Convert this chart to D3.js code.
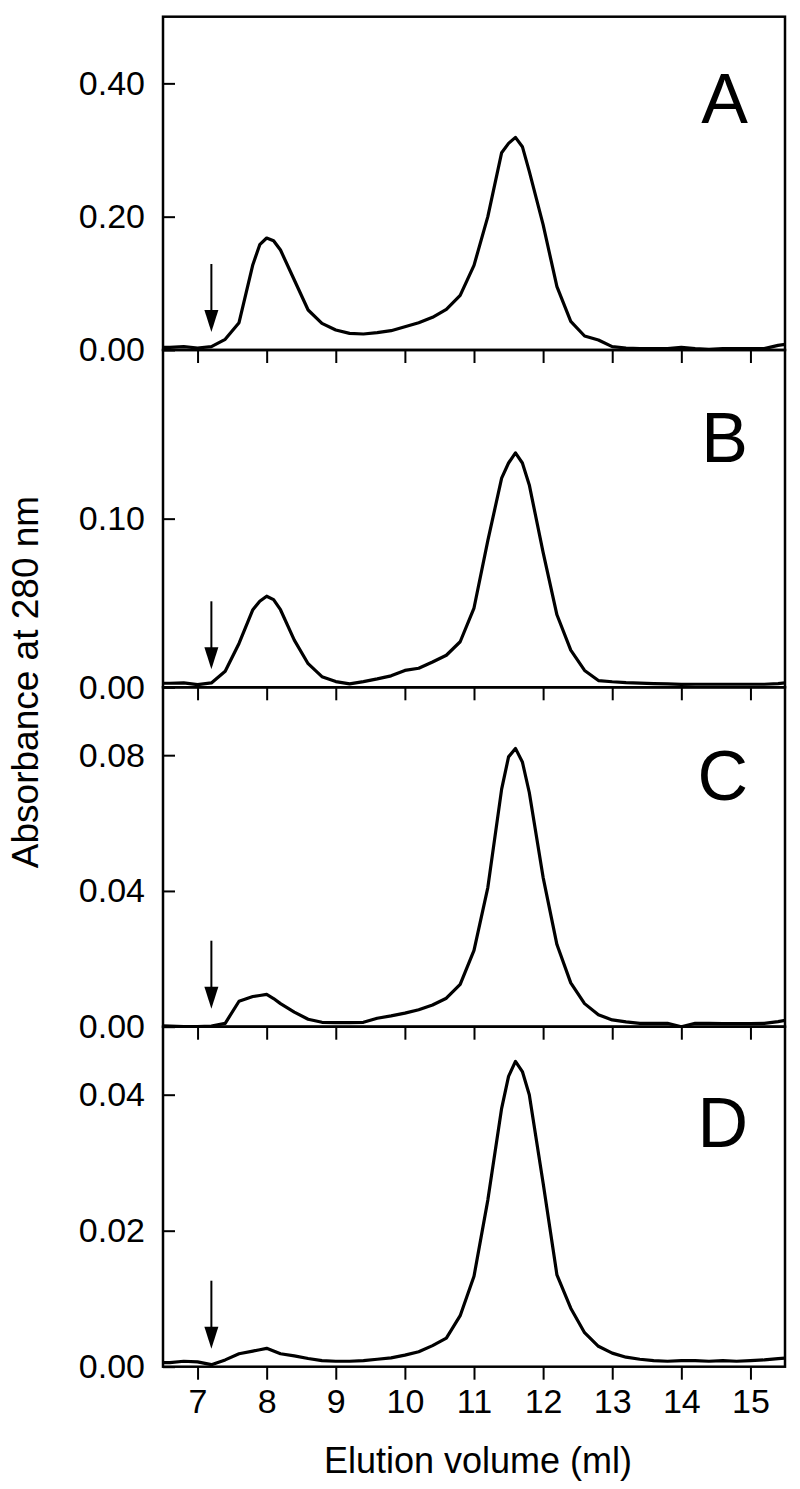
<!DOCTYPE html>
<html>
<head>
<meta charset="utf-8">
<script src="https://cdn.jsdelivr.net/npm/d3@7"></script>
<style>
  body { margin: 0; background: #fff; }
  svg { display: block; font-family: "Liberation Sans", Arial, sans-serif; }
</style>
</head>
<body>
<div id="chart"></div>
<script>
// elution volume (ml) of each reading
var volumes = [6.4, 6.6, 6.8, 7.0, 7.2, 7.4, 7.6, 7.8, 7.9, 8.0, 8.1, 8.2, 8.4, 8.6, 8.8, 9.0,
  9.2, 9.4, 9.6, 9.8, 10.0, 10.2, 10.4, 10.6, 10.8, 11.0, 11.2, 11.4, 11.5, 11.6, 11.7, 11.8,
  12.0, 12.2, 12.4, 12.6, 12.8, 13.0, 13.2, 13.4, 13.6, 13.8, 14.0, 14.2, 14.4, 14.6, 14.8,
  15.0, 15.2, 15.4, 15.6];

// absorbance at 280 nm, one list per panel
var absA = [0.004, 0.004, 0.005, 0.003, 0.005, 0.016, 0.041, 0.128, 0.158, 0.168, 0.164, 0.150,
  0.105, 0.060, 0.040, 0.030, 0.025, 0.024, 0.026, 0.029, 0.035, 0.041, 0.049, 0.061, 0.082,
  0.127, 0.200, 0.296, 0.310, 0.319, 0.305, 0.268, 0.188, 0.095, 0.043, 0.021, 0.015, 0.005,
  0.003, 0.002, 0.002, 0.002, 0.004, 0.002, 0.001, 0.002, 0.002, 0.002, 0.002, 0.007, 0.010];
var absB = [0.0024, 0.0024, 0.0026, 0.0016, 0.0026, 0.0095, 0.026, 0.046, 0.051, 0.054, 0.052,
  0.046, 0.028, 0.014, 0.0063, 0.0034, 0.0020, 0.0034, 0.005, 0.0068, 0.010, 0.0113, 0.015,
  0.019, 0.027, 0.047, 0.087, 0.124, 0.133, 0.139, 0.133, 0.120, 0.080, 0.043, 0.022, 0.010,
  0.004, 0.0033, 0.0028, 0.0025, 0.0022, 0.002, 0.0017, 0.0018, 0.0018, 0.0018, 0.0018,
  0.0018, 0.0018, 0.0022, 0.003];
var absC = [0.0003, 0.0002, 0.0000, 0.0000, 0.0002, 0.001, 0.0075, 0.0089, 0.0092, 0.0095,
  0.0083, 0.0068, 0.0043, 0.0022, 0.0013, 0.0012, 0.0012, 0.0013, 0.0025, 0.0032, 0.004,
  0.005, 0.0064, 0.0084, 0.0125, 0.0225, 0.041, 0.070, 0.0795, 0.082, 0.078, 0.069, 0.044,
  0.0242, 0.0129, 0.0068, 0.0035, 0.002, 0.0014, 0.001, 0.001, 0.001, 0.0000, 0.001, 0.001,
  0.0009, 0.0009, 0.0009, 0.001, 0.0015, 0.0022];
var absD = [0.0006, 0.0006, 0.0008, 0.0007, 0.0003, 0.001, 0.0019, 0.0023, 0.0025, 0.0027,
  0.0023, 0.0019, 0.0016, 0.0012, 0.0009, 0.0008, 0.0008, 0.0009, 0.0011, 0.0013, 0.0017,
  0.0022, 0.0031, 0.0042, 0.0075, 0.0133, 0.0245, 0.038, 0.0427, 0.0449, 0.0434, 0.040, 0.027,
  0.0135, 0.0086, 0.005, 0.003, 0.002, 0.0014, 0.0011, 0.0009, 0.0008, 0.0009, 0.0009, 0.0008,
  0.0009, 0.0008, 0.0009, 0.001, 0.0012, 0.0013];

var panelLetters = ["A", "B", "C", "D"];
var yMax = [0.5, 0.2, 0.1, 0.05];
var yTicks = [[0, 0.2, 0.4], [0, 0.1], [0, 0.04, 0.08], [0, 0.02, 0.04]];
var xTicks = [7, 8, 9, 10, 11, 12, 13, 14, 15];
var arrowVolume = 7.2; // sample injection marker

var series = [absA, absB, absC, absD];

var width = 800, height = 1489;
var left = 163, right = 785;
var panelTop = [16.7, 350, 687.3, 1026.7];
var panelBottom = [350, 687.3, 1026.7, 1366.7];
var letterDy = [106, 112, 113, 120];

var svg = d3.select("#chart")
  .append("svg")
  .attr("width", width)
  .attr("height", height);

var x = d3.scaleLinear().domain([6.5, 15.5]).range([left, right]);

panelLetters.forEach(function(letter, i) {
  var y = d3.scaleLinear()
    .domain([0, yMax[i]])
    .range([panelBottom[i], panelTop[i]]);

  var g = svg.append("g").attr("class", "panel");

  g.append("clipPath")
    .attr("id", "clip" + i)
    .append("rect")
    .attr("x", left)
    .attr("y", panelTop[i])
    .attr("width", right - left)
    .attr("height", panelBottom[i] - panelTop[i]);

  var pts = volumes.map(function(v, j) { return [v, series[i][j]]; });

  g.append("path")
    .datum(pts)
    .attr("clip-path", "url(#clip" + i + ")")
    .attr("fill", "none")
    .attr("stroke", "#000")
    .attr("stroke-width", 3.2)
    .attr("stroke-linejoin", "round")
    .attr("d", d3.line()
      .x(function(d) { return x(d[0]); })
      .y(function(d) { return y(d[1]); }));

  // y axis, ticks inside
  var yAxis = g.append("g")
    .attr("transform", "translate(" + left + ",0)")
    .call(d3.axisRight(y).tickValues(yTicks[i]).tickSize(12).tickFormat(d3.format(".2f")));
  yAxis.select(".domain").remove();
  yAxis.selectAll(".tick line").attr("stroke-width", 2);
  yAxis.selectAll(".tick text")
    .attr("x", -18)
    .attr("text-anchor", "end")
    .attr("font-size", 34)
    .attr("fill", "#000");

  // x axis, ticks hanging below each panel
  var xAxis = g.append("g")
    .attr("transform", "translate(0," + panelBottom[i] + ")")
    .call(d3.axisBottom(x).tickValues(xTicks).tickSize(13).tickFormat(i === 3 ? d3.format("d") : ""));
  xAxis.select(".domain").remove();
  xAxis.selectAll(".tick line").attr("stroke-width", 2);
  xAxis.selectAll(".tick text")
    .attr("y", 22)
    .attr("dy", "0.71em")
    .attr("font-size", 34)
    .attr("fill", "#000");

  // frame
  g.append("rect")
    .attr("x", left)
    .attr("y", panelTop[i])
    .attr("width", right - left)
    .attr("height", panelBottom[i] - panelTop[i])
    .attr("fill", "none")
    .attr("stroke", "#000")
    .attr("stroke-width", 2.5);

  // arrow
  var ax = x(arrowVolume);
  g.append("line")
    .attr("x1", ax).attr("x2", ax)
    .attr("y1", panelBottom[i] - 86)
    .attr("y2", panelBottom[i] - 35)
    .attr("stroke", "#000")
    .attr("stroke-width", 2);
  g.append("path")
    .attr("d", "M" + (ax - 7) + "," + (panelBottom[i] - 40) +
      "L" + (ax + 7) + "," + (panelBottom[i] - 40) +
      "L" + ax + "," + (panelBottom[i] - 18) + "Z")
    .attr("fill", "#000");

  g.append("text")
    .attr("x", 748)
    .attr("y", panelTop[i] + letterDy[i])
    .attr("text-anchor", "end")
    .attr("font-size", 70)
    .text(letter);
});

svg.append("text")
  .attr("transform", "translate(38,682) rotate(-90)")
  .attr("text-anchor", "middle")
  .attr("font-size", 37)
  .text("Absorbance at 280 nm");

svg.append("text")
  .attr("x", (left + right) / 2 + 4)
  .attr("y", 1473)
  .attr("text-anchor", "middle")
  .attr("font-size", 36)
  .text("Elution volume (ml)");
</script>
</body>
</html>
